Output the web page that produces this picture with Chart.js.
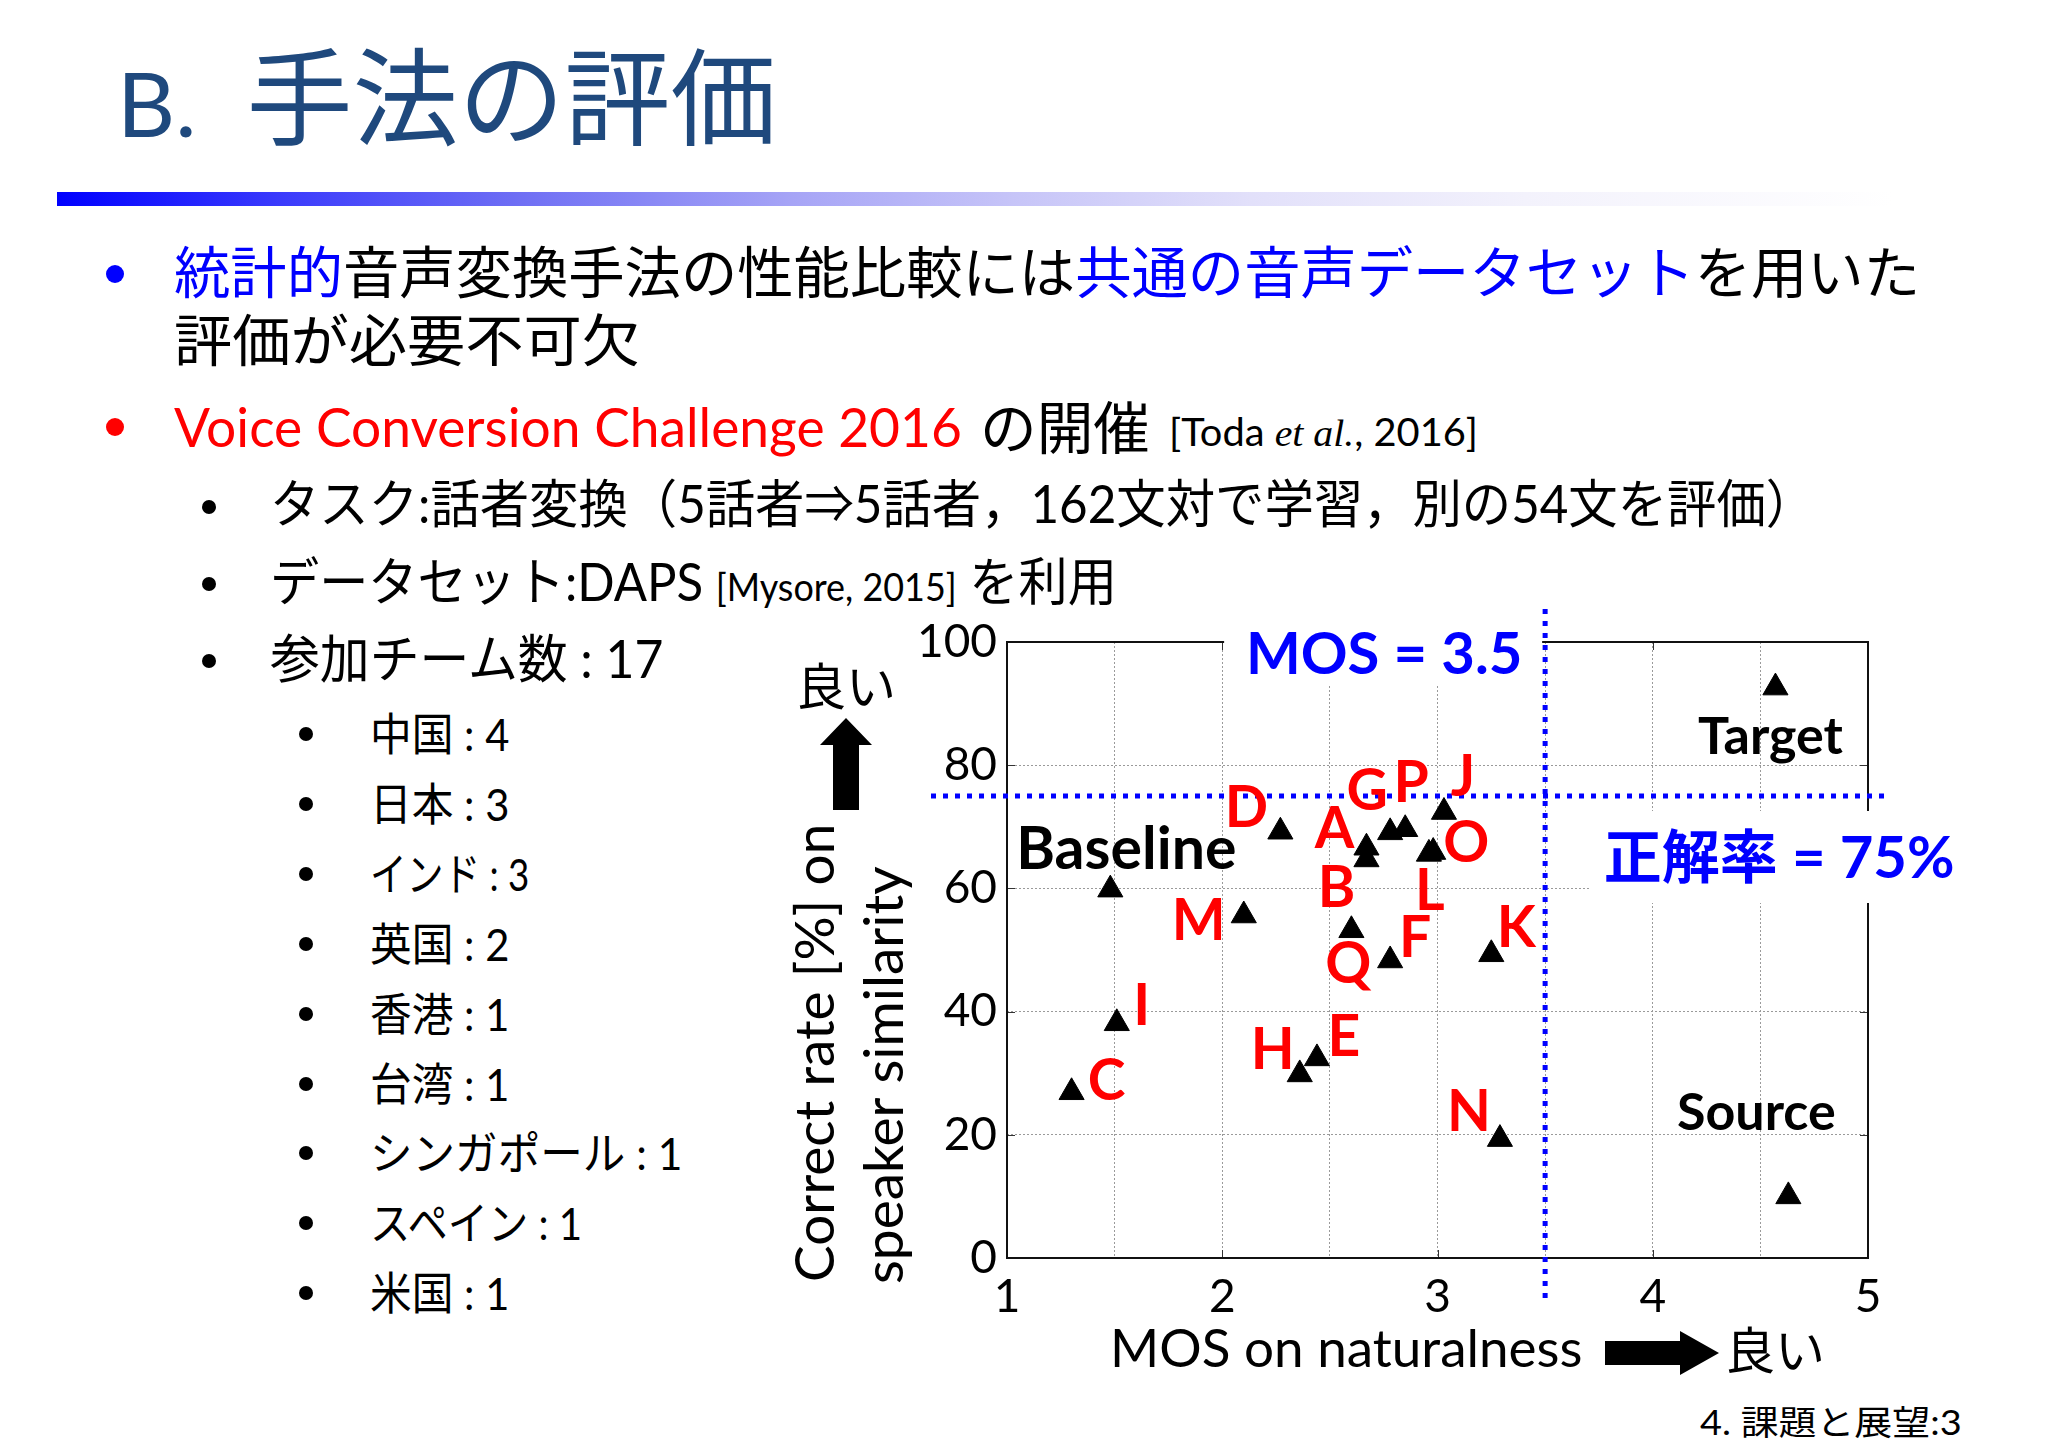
<!DOCTYPE html>
<html lang="ja">
<head>
<meta charset="utf-8">
<title>B. 手法の評価</title>
<script src="https://cdn.jsdelivr.net/npm/chart.js"></script>
<style>
html,body{margin:0;padding:0;background:#fff;}
#page{position:relative;width:2048px;height:1448px;overflow:hidden;background:#fff;font-family:Lato,'Noto Sans CJK JP',sans-serif;color:#000;}
.t{position:absolute;white-space:nowrap;line-height:1;transform-origin:0 50%;transform:translateY(-50%);}
.blue{color:#0000FF;}
.red{color:#FF0000;}
.cjk{font-family:'Noto Sans CJK JP',sans-serif;}
.ref{font-size:38px;}
.dot{position:absolute;border-radius:50%;}
#bar{position:absolute;left:57px;top:192px;width:1836px;height:14px;background:linear-gradient(to right,#0000FF 0%,#3a3afc 12%,#6e6ef4 25%,#a6a4f6 40%,#c6c4f8 52%,#e2e0fa 65%,#f3f2fc 80%,#ffffff 100%);}
#c{position:absolute;left:0;top:0;}
</style>
</head>
<body>
<div id="page">
  <div class="t" style="left:117px;top:92px;color:#1F497D;"><span style="font-family:Lato;font-size:90px;">B.</span><span class="cjk" style="font-size:106px;margin-left:50px;">手法の評価</span></div>
  <div id="bar"></div>

  <div class="dot" style="left:106px;top:265px;width:18px;height:18px;background:#0000FF;"></div>
  <div class="t" data-w="1746" style="left:174px;top:272px;font-size:56px;"><span class="blue">統計的</span>音声変換手法の性能比較には<span class="blue">共通の音声データセット</span>を用いた</div>
  <div class="t" data-w="466" style="left:174px;top:340px;font-size:56px;">評価が必要不可欠</div>

  <div class="dot" style="left:106px;top:418px;width:18px;height:18px;background:#FF0000;"></div>
  <div class="t red" data-w="788" style="left:174px;top:427px;font-size:54px;">Voice Conversion Challenge 2016</div>
  <div class="t" data-w="170" style="left:980px;top:427px;font-size:57px;">の開催</div>
  <div class="t" data-w="309" style="left:1169px;top:432px;font-size:38px;">[Toda <i style="font-family:'Liberation Serif',serif;">et al.</i>, 2016]</div>

  <div class="dot" style="left:202px;top:500px;width:14px;height:14px;background:#000;"></div>
  <div class="t" data-w="1545" style="left:270px;top:503px;font-size:52px;">タスク:話者変換（5話者⇒5話者，162文対で学習，別の54文を評価）</div>
  <div class="dot" style="left:202px;top:577px;width:14px;height:14px;background:#000;"></div>
  <div class="t" data-w="847" style="left:270px;top:581px;font-size:52px;">データセット:DAPS <span class="ref">[Mysore, 2015]</span> を利用</div>
  <div class="dot" style="left:202px;top:654px;width:14px;height:14px;background:#000;"></div>
  <div class="t" data-w="393" style="left:270px;top:658px;font-size:52px;">参加チーム数 : 17</div>

  <div id="countries"></div>

  <div class="t" data-w="262" style="left:1700px;top:1422px;font-size:34px;">4. 課題と展望:3</div>

  <canvas id="c" width="2048" height="1448"></canvas>
</div>

<script>
// ---------------- data ----------------
const systemLabels = ['A','B','C','D','E','F','G','H','I','J','K','L','M','N','O','P','Q'];
const systemNaturalness = [2.67, 2.67, 1.30, 2.27, 2.44, 2.78, 2.78, 2.36, 1.51, 3.03, 3.25, 2.96, 2.10, 3.29, 2.98, 2.85, 2.60];
const systemSimilarity  = [66.6, 64.7, 26.9, 69.2, 32.4, 48.3, 69.1, 29.8, 38.1, 72.4, 49.3, 65.6, 55.6, 19.3, 65.9, 69.6, 53.2];
const referenceLabels = ['Baseline', 'Target', 'Source'];
const referenceNaturalness = [1.48, 4.57, 4.63];
const referenceSimilarity  = [59.8, 92.6, 10.0];
const xTickValues = [1, 2, 3, 4, 5];
const yTickValues = [0, 20, 40, 60, 80, 100];
const mosThreshold = 3.5;
const similarityThreshold = 75;
const countryNames = ['中国', '日本', 'インド', '英国', '香港', '台湾', 'シンガポール', 'スペイン', '米国'];
const countryTeams = [4, 3, 3, 2, 1, 1, 1, 1, 1];

// ---------------- styles (pixel offsets / sizes, not data) ----------------
const systemLabelOffsets = {A:[-32,-20], B:[-30,28], C:[35,-12], D:[-34,-25], E:[27,-22], F:[25,-23], G:[-23,-42], H:[-27,-25], I:[25,-18], J:[19,-36], K:[25,-27], L:[1,36], M:[-45,4], N:[-31,-28], O:[33,-10], P:[6,-47], Q:[-3,33]};
const referenceLabelOffsets = {Baseline:[16,-21], Target:[-5,66], Source:[-32,-66]};
const referenceLabelSizes = {Baseline:59, Target:52, Source:52};
const countryWidths = [139, 139, 159, 139, 139, 139, 312, 212, 139];

// country list (slide text)
const cl = document.getElementById('countries');
countryNames.forEach((n, i) => {
  const cy = 734 + 69.9 * i;
  const d = document.createElement('div');
  d.className = 'dot';
  d.style.cssText = `left:299px;top:${cy - 7}px;width:14px;height:14px;background:#000;`;
  cl.appendChild(d);
  const t = document.createElement('div');
  t.className = 't';
  t.dataset.w = countryWidths[i];
  t.style.cssText = `left:370px;top:${cy}px;font-size:45px;`;
  t.textContent = `${n} : ${countryTeams[i]}`;
  cl.appendChild(t);
});

function fitTexts() {
  document.querySelectorAll('[data-w]').forEach(el => {
    el.style.transform = 'translateY(-50%)';
    const w = el.offsetWidth;
    const s = parseFloat(el.dataset.w) / w;
    el.style.transform = `translateY(-50%) scaleX(${s})`;
  });
}
fitTexts();

// ---------------- chart ----------------
const annotationPlugin = {
  id: 'slideAnnotations',
  beforeDatasetsDraw(chart) {
    const {ctx, chartArea: a, scales: {x, y}} = chart;
    ctx.save();
    ctx.strokeStyle = '#333';
    ctx.lineWidth = 1;
    ctx.beginPath();
    yTickValues.forEach(v => {
      const py = Math.round(y.getPixelForValue(v)) + 0.5;
      ctx.moveTo(a.left, py); ctx.lineTo(a.left + 8, py);
      ctx.moveTo(a.right, py); ctx.lineTo(a.right - 8, py);
    });
    xTickValues.forEach(v => {
      const px = Math.round(x.getPixelForValue(v)) + 0.5;
      ctx.moveTo(px, a.bottom); ctx.lineTo(px, a.bottom - 8);
      ctx.moveTo(px, a.top); ctx.lineTo(px, a.top + 8);
    });
    ctx.stroke();
    ctx.strokeStyle = '#111';
    ctx.lineWidth = 2;
    ctx.strokeRect(a.left, a.top, a.right - a.left, a.bottom - a.top);
    ctx.restore();
  },
  afterDatasetsDraw(chart) {
    const {ctx, chartArea: a, scales: {x, y}} = chart;
    const vx = x.getPixelForValue(mosThreshold);
    const hy = y.getPixelForValue(similarityThreshold);
    ctx.save();
    // white label backgrounds
    ctx.fillStyle = '#fff';
    ctx.fillRect(vx - 321, a.top - 30, 318, 72);
    ctx.fillRect(vx + 44, hy + 15, 420, 92);
    // threshold lines
    ctx.strokeStyle = '#0000FF';
    ctx.lineWidth = 5;
    ctx.setLineDash([5, 7]);
    ctx.beginPath(); ctx.moveTo(vx, a.top - 33); ctx.lineTo(vx, a.bottom + 47); ctx.stroke();
    ctx.beginPath(); ctx.moveTo(a.left - 76, hy); ctx.lineTo(a.right + 23, hy); ctx.stroke();
    ctx.setLineDash([]);
    // threshold texts
    ctx.fillStyle = '#0000FF';
    ctx.font = 'bold 58px Lato, "Noto Sans CJK JP", sans-serif';
    ctx.textAlign = 'center';
    ctx.textBaseline = 'alphabetic';
    ctx.fillText('MOS = ' + mosThreshold, vx - 161, a.top + 32);
    ctx.fillText('正解率 = ' + similarityThreshold + '%', vx + 234, hy + 82);
    // reference labels
    ctx.fillStyle = '#000';
    referenceLabels.forEach((l, i) => {
      const px = x.getPixelForValue(referenceNaturalness[i]);
      const py = y.getPixelForValue(referenceSimilarity[i]);
      const o = referenceLabelOffsets[l];
      ctx.font = `bold ${referenceLabelSizes[l]}px Lato, sans-serif`;
      ctx.fillText(l, px + o[0], py + o[1]);
    });
    // system letters
    ctx.fillStyle = '#FF0000';
    ctx.font = 'bold 57px Lato, sans-serif';
    systemLabels.forEach((l, i) => {
      const px = x.getPixelForValue(systemNaturalness[i]);
      const py = y.getPixelForValue(systemSimilarity[i]);
      const o = systemLabelOffsets[l];
      ctx.fillText(l, px + o[0], py + o[1] + 20);
    });
    // y axis title (two rotated lines)
    ctx.fillStyle = '#000';
    ctx.font = '55px Lato, sans-serif';
    ctx.textAlign = 'left';
    [['Correct rate [%] on', -173, 24], ['speaker similarity', -104, 26]].forEach(([s, dx, dy]) => {
      ctx.save();
      ctx.translate(a.left + dx, a.bottom + dy);
      ctx.rotate(-Math.PI / 2);
      ctx.fillText(s, 0, 0);
      ctx.restore();
    });
    // up arrow + 良い
    const ux = a.left - 161;
    ctx.beginPath();
    ctx.moveTo(ux - 13, a.top + 168);
    ctx.lineTo(ux - 13, a.top + 103);
    ctx.lineTo(ux - 26, a.top + 103);
    ctx.lineTo(ux, a.top + 76);
    ctx.lineTo(ux + 26, a.top + 103);
    ctx.lineTo(ux + 13, a.top + 103);
    ctx.lineTo(ux + 13, a.top + 168);
    ctx.closePath();
    ctx.fill();
    ctx.font = '50px "Noto Sans CJK JP", sans-serif';
    ctx.textAlign = 'center';
    ctx.textBaseline = 'middle';
    ctx.fillText('良い', ux, a.top + 44);
    // x axis title + right arrow + 良い
    ctx.font = '53px Lato, sans-serif';
    ctx.textAlign = 'left';
    ctx.textBaseline = 'alphabetic';
    ctx.fillText('MOS on naturalness', a.left + 103, a.bottom + 109);
    const ay = a.bottom + 95;
    ctx.beginPath();
    ctx.moveTo(a.left + 598, ay - 12);
    ctx.lineTo(a.left + 673, ay - 12);
    ctx.lineTo(a.left + 673, ay - 22);
    ctx.lineTo(a.left + 712, ay);
    ctx.lineTo(a.left + 673, ay + 22);
    ctx.lineTo(a.left + 673, ay + 12);
    ctx.lineTo(a.left + 598, ay + 12);
    ctx.closePath();
    ctx.fill();
    ctx.font = '50px "Noto Sans CJK JP", sans-serif';
    ctx.textBaseline = 'middle';
    ctx.fillText('良い', a.left + 718, a.bottom + 92);
    ctx.restore();
  }
};

const markerStyle = {
  pointStyle: 'triangle',
  pointRadius: 14.5,
  pointHoverRadius: 14.5,
  backgroundColor: '#000',
  borderColor: '#000',
  borderWidth: 1,
  showLine: false
};

const tickFont = {family: 'Lato, sans-serif', size: 46};

new Chart(document.getElementById('c'), {
  type: 'scatter',
  data: {
    datasets: [
      Object.assign({label: 'Systems', data: systemLabels.map((l, i) => ({x: systemNaturalness[i], y: systemSimilarity[i]}))}, markerStyle),
      Object.assign({label: 'References', data: referenceLabels.map((l, i) => ({x: referenceNaturalness[i], y: referenceSimilarity[i]}))}, markerStyle)
    ]
  },
  options: {
    responsive: false,
    animation: false,
    events: [],
    layout: {padding: {left: 907, top: 642, right: 180, bottom: 130}},
    plugins: {legend: {display: false}, tooltip: {enabled: false}},
    scales: {
      x: {
        type: 'linear', min: 1, max: 5,
        afterFit(s) { s.height = 60; },
        ticks: {
          stepSize: 0.5, autoSkip: false, maxRotation: 0, padding: 12, color: '#000', font: tickFont,
          callback: v => xTickValues.includes(v) ? String(v) : ''
        },
        grid: {color: '#9a9a9a', lineWidth: 1, drawTicks: false},
        border: {display: false, dash: [2, 2]}
      },
      y: {
        type: 'linear', min: 0, max: 100,
        afterFit(s) { s.width = 100; },
        ticks: {
          stepSize: 20, padding: 10, color: '#000', font: tickFont,
          callback: v => yTickValues.includes(v) ? String(v) : ''
        },
        grid: {color: '#9a9a9a', lineWidth: 1, drawTicks: false},
        border: {display: false, dash: [2, 2]}
      }
    }
  },
  plugins: [annotationPlugin]
});
</script>
</body>
</html>
